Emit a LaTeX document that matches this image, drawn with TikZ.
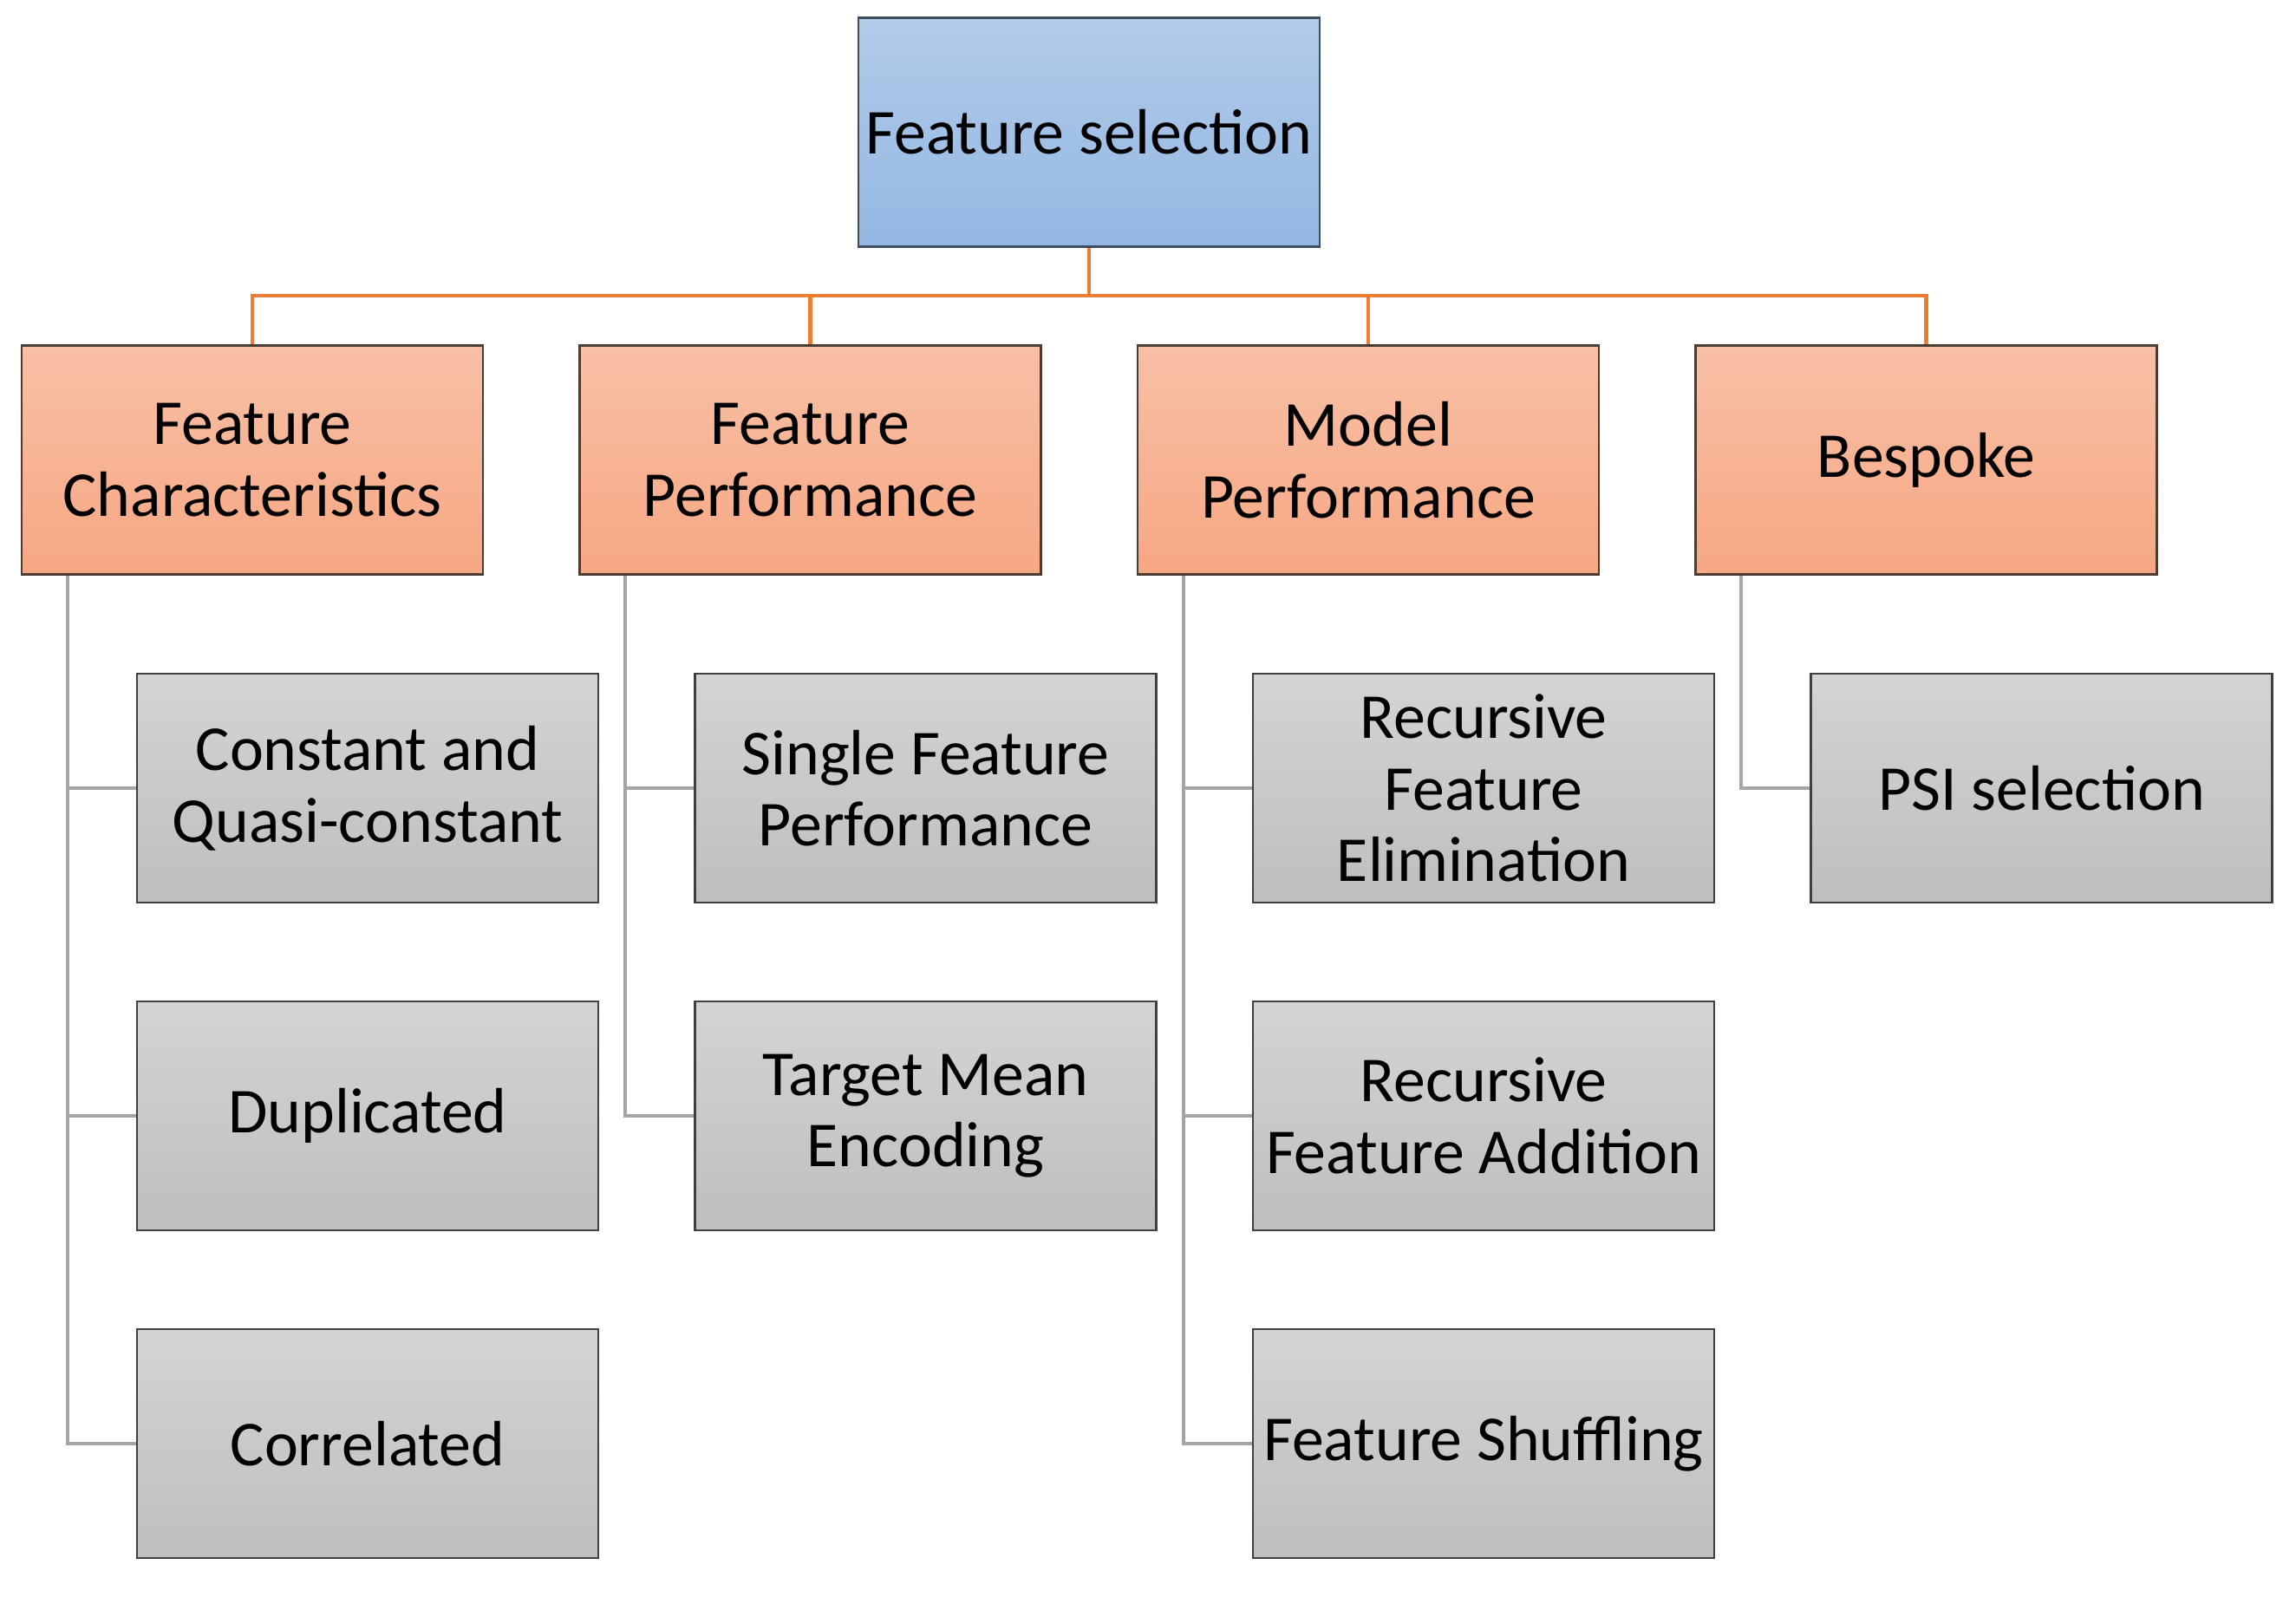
\documentclass[tikz,border=0pt]{standalone}
\usepackage{fontspec}
\setmainfont{Carlito}
\usepackage{tikz}
\usepackage{xcolor}

\definecolor{rootTop}{HTML}{B2CBE9}
\definecolor{rootBot}{HTML}{93B7E3}
\definecolor{rootLine}{HTML}{3E4C5C}
\definecolor{catTop}{HTML}{F8C0A6}
\definecolor{catBot}{HTML}{F6A783}
\definecolor{catLine}{HTML}{4A3B33}
\definecolor{leafTop}{HTML}{D4D4D4}
\definecolor{leafBot}{HTML}{BEBEBE}
\definecolor{leafLine}{HTML}{404040}
\definecolor{orangeLink}{HTML}{ED7D31}
\definecolor{grayLink}{HTML}{A5A5A5}

\tikzset{
  box/.style={minimum width=5.32cm, minimum height=2.64cm, inner sep=0pt,
    align=center, font=\fontsize{21}{23.5}\selectfont, line width=0.7pt},
  rootbox/.style={box, draw=rootLine, top color=rootTop, bottom color=rootBot},
  catbox/.style={box, draw=catLine, top color=catTop, bottom color=catBot},
  leafbox/.style={box, draw=leafLine, top color=leafTop, bottom color=leafBot},
  orangelink/.style={draw=orangeLink, line width=1.2pt},
  graylink/.style={draw=grayLink, line width=1.2pt}
}

\begin{document}
\begin{tikzpicture}

\useasboundingbox (0,0) rectangle (26.48,-18.64);

% root
\node[rootbox] (root) at (12.56,-1.525) {Feature selection};
\coordinate (bar) at (0,-3.41);

% categories
\node[catbox] (fchar) at (2.91,-5.305) {Feature\\Characteristics};
\node[catbox] (fperf) at (9.345,-5.305) {Feature\\Performance};
\node[catbox] (mperf) at (15.78,-5.305) {Model\\Performance};
\node[catbox] (besp) at (22.215,-5.305) {Bespoke};

% leaves
\node[leafbox] (const) at (4.24,-9.09) {Constant and\\Quasi-constant};
\node[leafbox] (dupl) at (4.24,-12.87) {Duplicated};
\node[leafbox] (corr) at (4.24,-16.65) {Correlated};

\node[leafbox] (single) at (10.675,-9.09) {Single Feature\\Performance};
\node[leafbox] (target) at (10.675,-12.87) {Target Mean\\Encoding};

\node[leafbox] (rfe) at (17.11,-9.09) {Recursive\\Feature\\Elimination};
\node[leafbox] (rfa) at (17.11,-12.87) {Recursive\\Feature Addition};
\node[leafbox] (shuf) at (17.11,-16.65) {Feature Shuffling};

\node[leafbox] (psi) at (23.545,-9.09) {PSI selection};

% orange links
\draw[orangelink] (root.south) -- (root.south |- bar) -| (fchar.north);
\draw[orangelink] (root.south |- bar) -| (fperf.north);
\draw[orangelink] (root.south |- bar) -| (mperf.north);
\draw[orangelink] (root.south |- bar) -| (besp.north);

% gray links
\draw[graylink] ([xshift=0.54cm]fchar.south west) |- (const.west);
\draw[graylink] ([xshift=0.54cm]fchar.south west) |- (dupl.west);
\draw[graylink] ([xshift=0.54cm]fchar.south west) |- (corr.west);
\draw[graylink] ([xshift=0.54cm]fperf.south west) |- (single.west);
\draw[graylink] ([xshift=0.54cm]fperf.south west) |- (target.west);
\draw[graylink] ([xshift=0.54cm]mperf.south west) |- (rfe.west);
\draw[graylink] ([xshift=0.54cm]mperf.south west) |- (rfa.west);
\draw[graylink] ([xshift=0.54cm]mperf.south west) |- (shuf.west);
\draw[graylink] ([xshift=0.54cm]besp.south west) |- (psi.west);

\end{tikzpicture}
\end{document}
